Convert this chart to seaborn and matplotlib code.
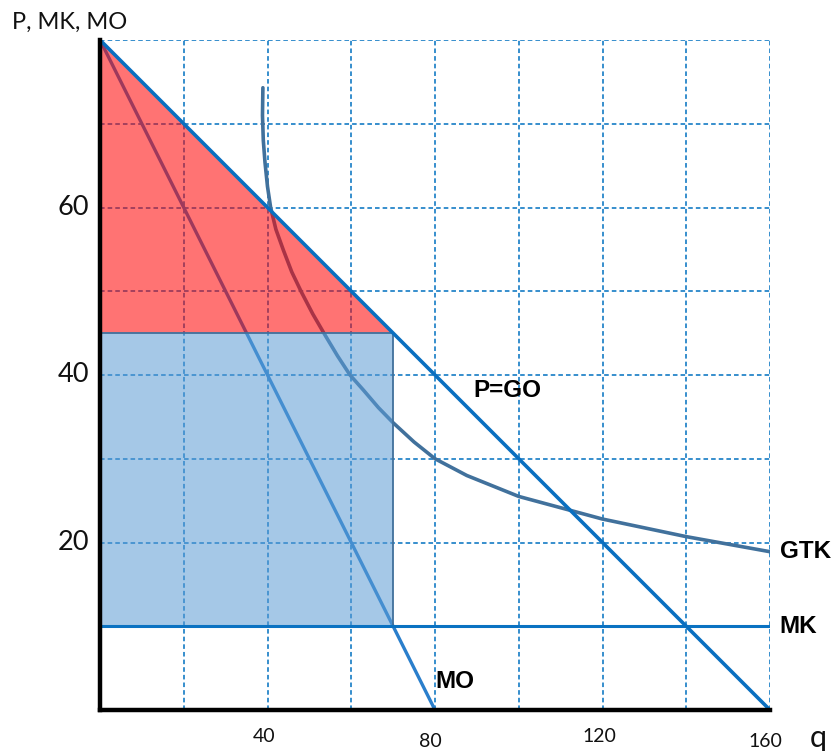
import numpy as np
import pandas as pd
import matplotlib
matplotlib.use("Agg")
import matplotlib.pyplot as plt
import seaborn as sns

# ---- data ----
q_demand = [0, 160]
p_demand = [80, 0]          # P = GO
q_mo = [0, 80]
p_mo = [80, 0]              # MO
q_mk = [0, 160]
p_mk = [10, 10]             # MK
q_gtk = [38.9, 38.8, 39.0, 39.4, 40.0, 40.75, 42.0, 43.8, 45.8, 48.1, 50.8, 53.7, 56.7, 59.7, 62.9,
         66.5, 70, 75, 80, 87.6, 100, 112.6, 120, 140, 160]
p_gtk = [74.3, 71.0, 68.0, 65.4, 62.5, 60.0, 57.4, 54.9, 52.3, 49.9, 47.3, 44.8, 42.3, 40.0, 38.2,
         36.1, 34.3, 32.0, 30.0, 28.0, 25.5, 23.8, 22.8, 20.7, 18.9]
q_opt = 70
p_opt = 45
p_max = 80
cost_level = 10
x_grid = [20, 40, 60, 80, 100, 120, 140, 160]
y_grid = [10, 20, 30, 40, 50, 60, 70, 80]
x_ticks = [40, 80, 120, 160]
y_ticks = [20, 40, 60]

sns.set_theme(style="white")
plt.rcParams['font.family'] = ['Liberation Sans', 'DejaVu Sans']

fig = plt.figure(figsize=(8.37, 7.51), dpi=100)
ax = fig.add_axes([100/837, 1-710/751, 670/837, 670/751])
ax.set_xlim(0, 160)
ax.set_ylim(0, 80)

grid_col = '#0070c0'
for gx in x_grid:
    ax.plot([gx, gx], [0, 80.6], ls=(0, (3, 2)), color=grid_col, lw=1.1, zorder=1)
for gy in y_grid:
    ax.plot([0, 160], [gy, gy], ls=(0, (3, 2)), color=grid_col, lw=1.1, zorder=1)

# curves
df_mo = pd.DataFrame({'q': q_mo, 'p': p_mo})
sns.lineplot(data=df_mo, x='q', y='p', ax=ax, color='#2a7fcc', lw=2.4, zorder=2)
df_gtk = pd.DataFrame({'q': q_gtk, 'p': p_gtk})
sns.lineplot(data=df_gtk, x='q', y='p', ax=ax, color='#41719c', lw=2.6, zorder=2, sort=False,
             solid_joinstyle='round')

# areas
ax.fill([0, q_opt, 0], [p_max, p_opt, p_opt], color='#ff0000', alpha=0.55, lw=0, zorder=3)
ax.fill([0, q_opt, q_opt, 0], [p_opt, p_opt, cost_level, cost_level],
        facecolor='#5b9bd5', alpha=0.55, edgecolor='#41719c', lw=1.2, zorder=3)
ax.plot([0, q_opt, q_opt], [p_opt, p_opt, cost_level], color='#41719c', lw=1.2, zorder=3)

df_mk = pd.DataFrame({'q': q_mk, 'p': p_mk})
sns.lineplot(data=df_mk, x='q', y='p', ax=ax, color='#0a72c2', lw=2.2, zorder=4)
df_d = pd.DataFrame({'q': q_demand, 'p': p_demand})
sns.lineplot(data=df_d, x='q', y='p', ax=ax, color='#0a6fc0', lw=2.6, zorder=5)

ax.set_xlabel('')
ax.set_ylabel('')
ax.set_xticks([])
ax.set_yticks([])
for s in ['top', 'right']:
    ax.spines[s].set_visible(False)
for s in ['left', 'bottom']:
    ax.spines[s].set_color('black')
    ax.spines[s].set_linewidth(3.2)
    ax.spines[s].set_zorder(6)

label_font = ['Lato', 'DejaVu Sans']
for i, t in enumerate(x_ticks):
    off = -0.15 if i % 2 else 0.3
    ax.text(t - 1 + off, -2.2 - (0.6 if i % 2 else 0), str(t), ha='center', va='top',
            fontsize=14, family=label_font, color='#111111')
for t in y_ticks:
    ax.text(-2.6, t, str(t), ha='right', va='center', fontsize=19.5,
            family=label_font, color='#111111')

fig.text(12/837, 1-22/751, 'P, MK, MO', ha='left', va='center', fontsize=17,
         family=label_font, color='#111111')
fig.text(818/837, 1-738/751, 'q', ha='center', va='center', fontsize=22,
         family=label_font, color='#111111')

bold = dict(fontsize=17.5, fontweight='bold', color='black', clip_on=False)
ax.text(97.4, 38.1, 'P=GO', ha='center', va='center', **bold)
ax.text(162.3, 18.9, 'GTK', ha='left', va='center', **bold)
ax.text(162.3, 10, 'MK', ha='left', va='center', **bold)
ax.text(84.8, 3.4, 'MO', ha='center', va='center', **bold)

fig.savefig('out.png', dpi=100)
